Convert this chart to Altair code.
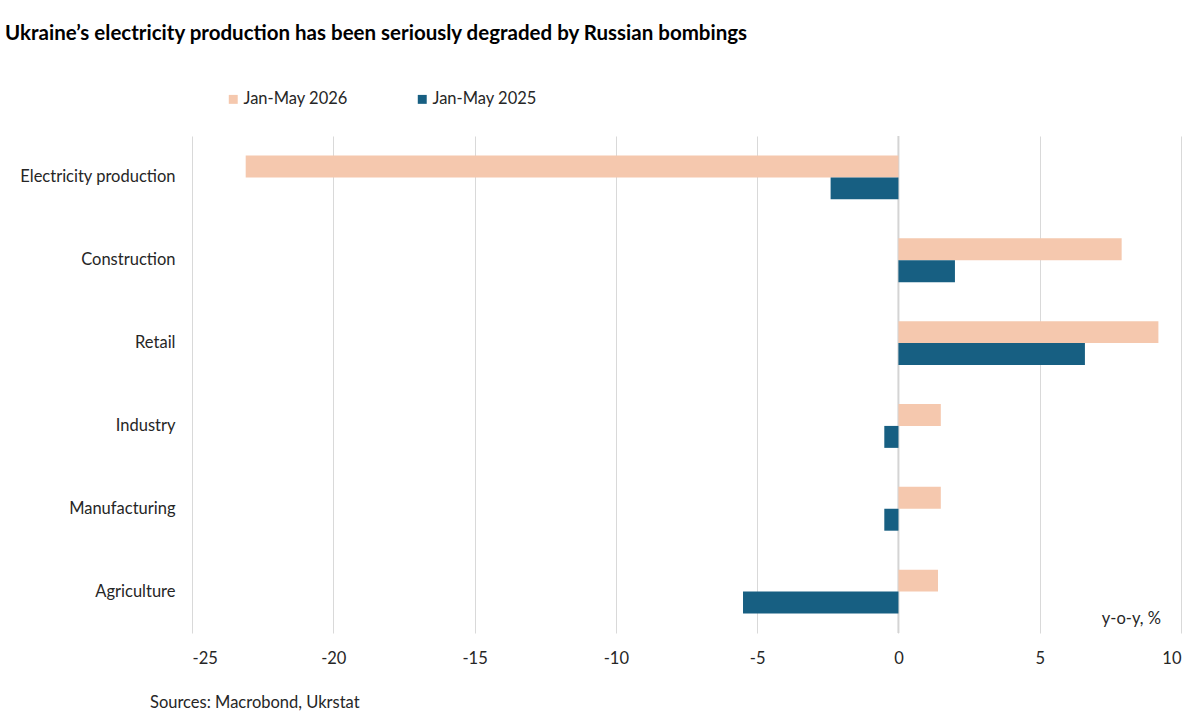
import altair as alt
import pandas as pd

categories = ["Electricity production", "Construction", "Retail", "Industry", "Manufacturing", "Agriculture"]
series_names = ["Jan-May 2026", "Jan-May 2025"]
values_2026 = [-23.1, 7.9, 9.2, 1.5, 1.5, 1.4]
values_2025 = [-2.4, 2.0, 6.6, -0.5, -0.5, -5.5]
x_ticks = [-25, -20, -15, -10, -5, 0, 5, 10]

title_text = "Ukraine\u2019s electricity production has been seriously degraded by Russian bombings"
source_text = "Sources: Macrobond, Ukrstat"
unit_text = "y-o-y, %"

rows = []
for c, v in zip(categories, values_2026):
    rows.append({"category": c, "series": series_names[0], "value": v})
for c, v in zip(categories, values_2025):
    rows.append({"category": c, "series": series_names[1], "value": v})
df = pd.DataFrame(rows)

FONT = "Lato"
TXT = "#262626"
FS = 16.5

bars = alt.Chart(df).mark_bar().encode(
    x=alt.X("value:Q",
            scale=alt.Scale(domain=[-25, 10], nice=False, zero=False),
            axis=alt.Axis(values=x_ticks, title=None, grid=True, gridColor="#d9d9d9",
                          gridWidth=1, domain=False, ticks=False, labelPadding=17,
                          labelExpr="toString(datum.value)",
                          labelFontSize=FS, labelColor=TXT, labelFont=FONT)),
    y=alt.Y("category:N", sort=categories,
            scale=alt.Scale(paddingInner=0.47, paddingOuter=0.235),
            axis=alt.Axis(title=None, domain=False, ticks=False, labelPadding=17,
                          labelFontSize=FS, labelColor=TXT, labelFont=FONT)),
    yOffset=alt.YOffset("series:N", sort=series_names,
                        scale=alt.Scale(paddingInner=0, paddingOuter=0)),
    color=alt.Color("series:N", sort=series_names,
                    scale=alt.Scale(domain=series_names, range=["#F5C8AE", "#175F82"]),
                    legend=alt.Legend(title=None, orient="none", direction="horizontal",
                                      legendX=33, legendY=-45, symbolType="square",
                                      symbolSize=80, symbolStrokeWidth=0,
                                      labelFontSize=FS, labelColor=TXT, labelFont=FONT,
                                      columnPadding=66, padding=0, labelOffset=2)),
)

zero_rule = alt.Chart(pd.DataFrame({"z": [0]})).mark_rule(color="#d4d4d4", strokeWidth=2).encode(
    x=alt.X("z:Q")
)

title_mark = alt.Chart(pd.DataFrame({"t": [title_text]})).mark_text(
    align="left", baseline="middle", fontSize=20.5, fontWeight="bold", font=FONT, color="#000000"
).encode(text="t:N", x=alt.value(-187), y=alt.value(-102))

source_mark = alt.Chart(pd.DataFrame({"t": [source_text]})).mark_text(
    align="left", baseline="middle", fontSize=FS, font=FONT, color=TXT
).encode(text="t:N", x=alt.value(-42), y=alt.value(567))

unit_mark = alt.Chart(pd.DataFrame({"t": [unit_text]})).mark_text(
    align="right", baseline="middle", fontSize=FS, font=FONT, color=TXT
).encode(text="t:N", x=alt.value(969), y=alt.value(483))

chart = alt.layer(zero_rule, bars, title_mark, source_mark, unit_mark).properties(
    width=989, height=497,
    autosize=alt.AutoSizeParams(type="none"),
    padding={"left": 192, "top": 136, "right": 19, "bottom": 87},
    background="white",
).configure_view(stroke=None)

chart.save("out.html", embed_options={"renderer": "svg", "actions": False})
